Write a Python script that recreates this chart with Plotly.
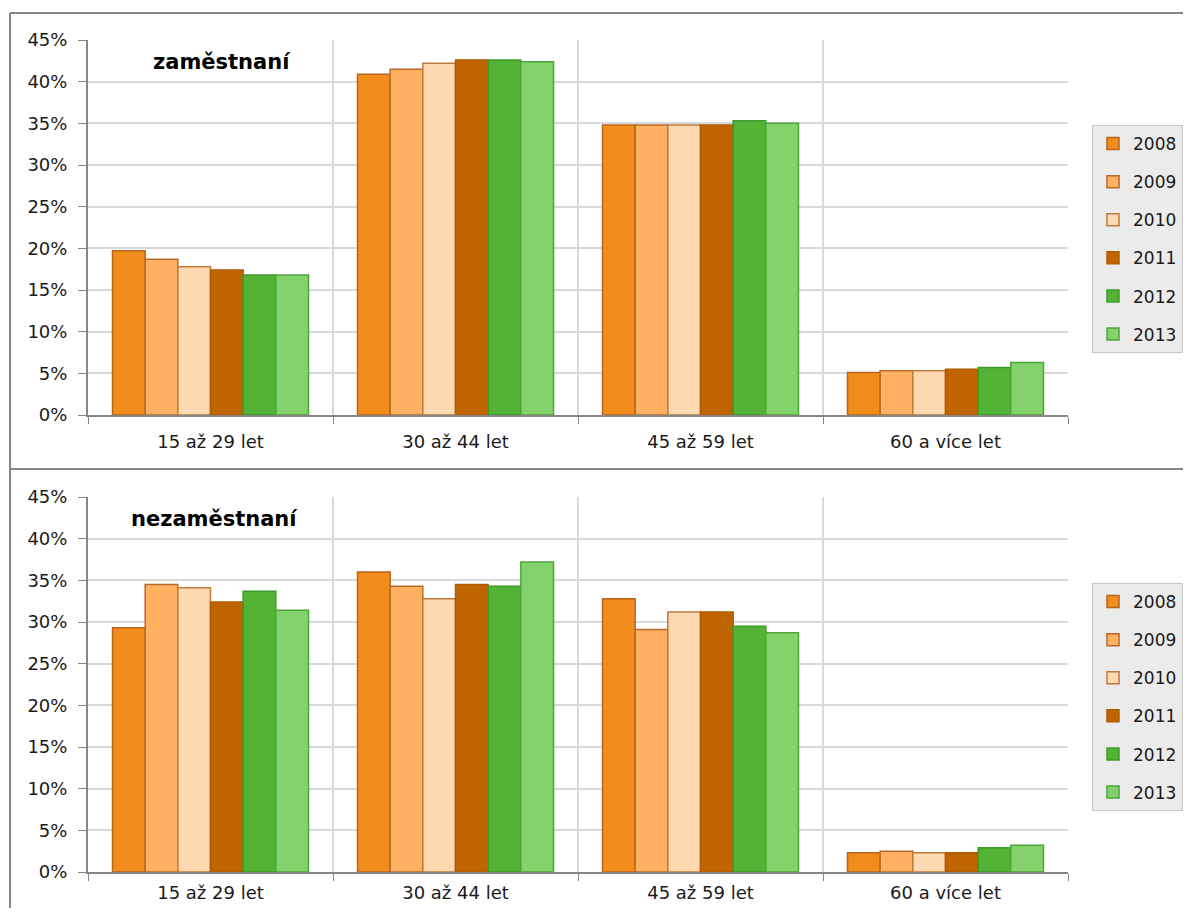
import plotly.graph_objects as go

# The page body has an 8px margin; the figure is sized so that it fits the window exactly.
OFF = 8
W, H = 1191 - 2 * OFF, 916 - 2 * OFF

categories = ["15 až 29 let", "30 až 44 let", "45 až 59 let", "60 a více let"]
years = ["2008", "2009", "2010", "2011", "2012", "2013"]

# zaměstnaní (employed), % share by age group, one list per year
emp_2008 = [19.7, 40.9, 34.8, 5.1]
emp_2009 = [18.7, 41.5, 34.8, 5.3]
emp_2010 = [17.8, 42.2, 34.8, 5.3]
emp_2011 = [17.4, 42.6, 34.8, 5.5]
emp_2012 = [16.8, 42.6, 35.3, 5.7]
emp_2013 = [16.8, 42.4, 35.0, 6.3]

# nezaměstnaní (unemployed)
unemp_2008 = [29.3, 36.0, 32.8, 2.3]
unemp_2009 = [34.5, 34.3, 29.1, 2.5]
unemp_2010 = [34.1, 32.8, 31.2, 2.3]
unemp_2011 = [32.4, 34.5, 31.2, 2.3]
unemp_2012 = [33.7, 34.3, 29.5, 2.9]
unemp_2013 = [31.4, 37.2, 28.7, 3.2]

emp = [emp_2008, emp_2009, emp_2010, emp_2011, emp_2012, emp_2013]
unemp = [unemp_2008, unemp_2009, unemp_2010, unemp_2011, unemp_2012, unemp_2013]

fills = ["#F28C1A", "#FFB061", "#FFD9B1", "#C06400", "#52B335", "#84D26C"]
borders = ["#B8651E", "#B86A2A", "#C07A3A", "#B05C00", "#3F9A2A", "#4EA53A"]

FONT = "DejaVu Sans"
fig = go.Figure()

for i, y in enumerate(years):
    fig.add_trace(go.Bar(
        x=categories, y=emp[i], name=y, xaxis="x", yaxis="y",
        marker=dict(color=fills[i], line=dict(color=borders[i], width=1.5)),
        legend="legend", legendgroup="t" + y,
    ))
for i, y in enumerate(years):
    fig.add_trace(go.Bar(
        x=categories, y=unemp[i], name=y, xaxis="x2", yaxis="y2",
        marker=dict(color=fills[i], line=dict(color=borders[i], width=1.5)),
        legend="legend2", legendgroup="b" + y,
    ))


def px_x(p):
    return (p - OFF) / W


def px_y(p):
    return 1 - (p - OFF) / H


xdom = [px_x(88), px_x(1068)]
axis_font = dict(family=FONT, size=18, color="#1a1a1a")

xcommon = dict(
    domain=xdom, tickson="boundaries", ticks="outside", ticklen=7,
    tickcolor="#868686", showline=True, linecolor="#868686", linewidth=2,
    showgrid=True, gridcolor="#d9d9d9", gridwidth=2, tickfont=axis_font,
    fixedrange=True, automargin=False,
)
ycommon = dict(
    range=[0, 45], dtick=5, ticksuffix="%", ticks="outside", ticklen=8,
    tickcolor="#868686", showline=True, linecolor="#868686", linewidth=2,
    showgrid=True, gridcolor="#d9d9d9", gridwidth=2, tickfont=axis_font,
    zeroline=False, fixedrange=True, automargin=False, ticklabelstandoff=7,
)

legend_common = dict(
    bgcolor="#ebebeb", bordercolor="#c8c8c8", borderwidth=1,
    font=dict(family=FONT, size=17, color="#1a1a1a"),
    tracegroupgap=13, xanchor="left", yanchor="top", itemclick=False,
)

fig.update_layout(
    width=W, height=H,
    margin=dict(l=0, r=0, t=0, b=0, autoexpand=False),
    paper_bgcolor="white", plot_bgcolor="white",
    barmode="group", bargap=0.2, bargroupgap=0,
    font=dict(family=FONT),
    xaxis=dict(anchor="y", ticklabelstandoff=9, **xcommon),
    yaxis=dict(anchor="x", domain=[px_y(415), px_y(40)], **ycommon),
    xaxis2=dict(anchor="y2", ticklabelstandoff=3, **xcommon),
    yaxis2=dict(anchor="x2", domain=[px_y(872), px_y(497)], **ycommon),
    legend=dict(x=px_x(1092), y=px_y(125), **legend_common),
    legend2=dict(x=px_x(1092), y=px_y(583), **legend_common),
    annotations=[
        dict(text="<b>zaměstnaní</b>", x=px_x(222), y=px_y(62), xref="paper", yref="paper",
             xanchor="center", yanchor="middle",
             showarrow=False, font=dict(family=FONT, size=21, color="black")),
        dict(text="<b>nezaměstnaní</b>", x=px_x(214), y=px_y(519), xref="paper", yref="paper",
             xanchor="center", yanchor="middle",
             showarrow=False, font=dict(family=FONT, size=21, color="black")),
    ],
    shapes=[
        dict(type="line", xref="paper", yref="paper", x0=px_x(10), x1=1.0, y0=px_y(13), y1=px_y(13),
             line=dict(color="#868686", width=2)),
        dict(type="line", xref="paper", yref="paper", x0=px_x(10), x1=1.0, y0=px_y(469), y1=px_y(469),
             line=dict(color="#868686", width=2)),
        dict(type="line", xref="paper", yref="paper", x0=px_x(10), x1=px_x(10), y0=px_y(13), y1=0,
             line=dict(color="#868686", width=2)),
    ],
)

fig.write_html("out.html")
